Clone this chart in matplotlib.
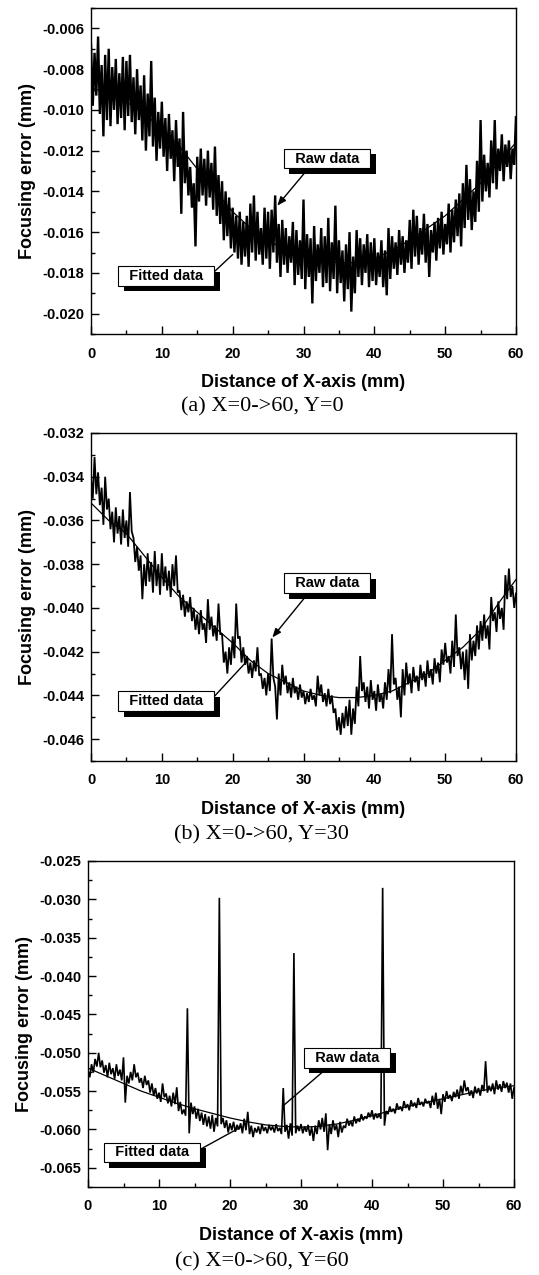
import numpy as np
import matplotlib
matplotlib.use("Agg")
import matplotlib.pyplot as plt
import matplotlib.patheffects as pe
from matplotlib.ticker import MultipleLocator, FormatStrFormatter

plt.rcParams['axes.unicode_minus'] = False
plt.rcParams['font.family'] = ['Liberation Sans', 'DejaVu Sans']

# ---------------- data (focusing error in micrometres, x in mm) ----------------
# raw data: upper excursions sampled at x = 0, 0.5, ... ; lower excursions at x = 0.25, 0.75, ...
raw_a_hi = [-6.8, -7.2, -6.4, -7.8, -7.3, -7.0, -7.9, -7.5, -8.2, -7.4, -7.6, -7.3, -8.4, -8.0, -8.8, -8.3,
            -9.2, -7.6, -9.4, -10.1, -9.6, -10.4, -10.2, -11.0, -10.5, -11.4, -10.1, -12.0, -12.8, -13.6, -12.3,
            -11.9, -12.4, -12.0, -12.6, -11.8, -13.2, -13.5, -14.0, -14.3, -14.8, -15.2, -15.0, -15.5, -15.2,
            -14.6, -14.2, -15.0, -15.8, -14.8, -15.0, -14.9, -14.2, -15.6, -15.4, -15.8, -16.2, -15.5, -15.9,
            -16.4, -14.4, -16.1, -16.3, -15.7, -16.6, -15.8, -16.2, -15.3, -16.5, -14.7, -16.4, -16.9, -16.6,
            -16.0, -17.2, -15.9, -16.3, -16.6, -16.1, -16.5, -16.3, -17.0, -16.4, -16.9, -15.8, -16.2, -16.5,
            -15.9, -16.2, -16.4, -15.4, -14.9, -15.2, -15.8, -15.1, -15.6, -15.9, -15.5, -15.3, -15.0, -15.6,
            -14.6, -14.9, -14.4, -14.1, -13.6, -12.7, -13.4, -14.0, -12.5, -10.5, -12.2, -12.6, -11.5, -10.5,
            -11.9, -11.2, -11.7, -11.5, -11.9, -10.3]
raw_a_lo = [-9.8, -9.3, -10.2, -11.3, -10.5, -10.8, -10.0, -10.7, -10.4, -11.0, -10.3, -10.6, -11.2, -10.5,
            -11.5, -12.0, -11.3, -11.8, -12.5, -11.9, -12.3, -13.0, -12.4, -13.5, -12.8, -15.1, -13.6, -14.2,
            -14.8, -16.7, -14.5, -14.2, -14.7, -14.3, -14.9, -15.2, -15.6, -16.4, -16.2, -16.8, -17.0, -17.3,
            -17.6, -17.2, -17.7, -17.0, -17.4, -17.1, -17.6, -17.3, -17.8, -17.0, -17.5, -18.2, -17.6, -18.0,
            -17.5, -18.6, -18.1, -18.3, -18.8, -18.2, -19.5, -18.4, -18.0, -18.7, -18.5, -18.9, -18.3, -19.0,
            -18.5, -19.4, -18.8, -19.9, -19.0, -18.2, -18.6, -18.0, -18.7, -18.4, -18.6, -18.2, -18.7, -19.1,
            -18.3, -17.8, -18.1, -17.6, -18.0, -17.5, -17.8, -17.2, -17.6, -17.1, -17.5, -18.2, -17.0, -17.4,
            -16.8, -17.1, -16.6, -17.0, -16.5, -16.2, -16.7, -15.8, -15.4, -15.9, -15.5, -15.0, -14.5, -14.0,
            -14.3, -13.6, -13.9, -13.0, -13.5, -12.8, -13.4, -12.7, -12.2]
fit_a_x = [0, 2.5, 5, 7.5, 10, 12.5, 15, 17.5, 20, 22.5, 25, 27.5, 30, 32.5, 35, 37.5, 40, 42.5, 45, 47.5, 50,
           52.5, 55, 57.5, 60]
fit_a = [-8.9, -9.2, -9.6, -10.2, -10.9, -11.8, -12.9, -14.0, -15.0, -15.8, -16.4, -16.9, -17.2, -17.4, -17.5,
         -17.5, -17.3, -16.9, -16.4, -15.8, -15.2, -14.4, -13.6, -12.6, -11.6]

raw_b_hi = [-34.0, -33.1, -33.8, -34.5, -34.0, -35.0, -35.6, -35.4, -35.8, -35.5, -36.0, -34.7, -36.8, -37.2,
            -37.6, -38.0, -37.5, -37.9, -37.4, -38.0, -37.5, -38.1, -38.3, -38.0, -37.6, -39.2, -39.4, -39.7,
            -39.5, -40.0, -40.3, -40.1, -40.7, -39.6, -40.4, -40.8, -39.8, -41.2, -42.0, -41.8, -41.3, -39.8,
            -41.3, -41.8, -42.2, -42.5, -42.4, -41.8, -43.0, -43.2, -43.0, -41.4, -43.6, -43.0, -42.6, -43.1,
            -43.4, -43.2, -43.6, -43.5, -43.8, -43.9, -43.7, -44.0, -43.1, -43.5, -43.9, -43.7, -44.0, -44.6,
            -45.0, -44.8, -44.5, -44.2, -44.6, -43.6, -42.2, -43.4, -43.6, -43.3, -43.8, -43.5, -43.9, -43.4,
            -42.8, -41.2, -43.2, -43.6, -42.8, -42.5, -43.0, -42.7, -43.1, -42.6, -42.9, -42.4, -42.8, -42.3,
            -42.5, -41.9, -41.6, -42.2, -41.5, -40.3, -41.8, -42.0, -41.9, -41.2, -41.5, -40.8, -40.6, -40.3,
            -40.8, -39.5, -40.2, -39.7, -40.0, -38.5, -38.2, -39.0, -39.3]
raw_b_lo = [-35.0, -34.8, -35.3, -36.2, -35.5, -36.4, -37.0, -36.6, -37.1, -36.8, -37.2, -36.5, -37.9, -38.3,
            -39.6, -39.0, -38.8, -39.3, -39.0, -39.4, -39.0, -39.2, -39.5, -39.0, -39.3, -40.1, -40.4, -40.2,
            -40.6, -41.0, -41.2, -41.0, -41.6, -41.0, -41.3, -41.5, -41.2, -42.5, -43.0, -42.6, -42.3, -41.4,
            -42.5, -42.6, -43.0, -43.2, -42.9, -43.1, -43.7, -44.0, -43.8, -43.2, -45.1, -44.0, -43.5, -43.9,
            -44.1, -43.9, -44.2, -44.1, -44.4, -44.3, -44.2, -44.5, -44.0, -44.3, -44.5, -44.4, -44.8, -45.6,
            -45.8, -45.5, -45.4, -45.8, -45.3, -44.5, -43.8, -44.3, -44.6, -44.2, -44.7, -44.3, -44.6, -44.2,
            -43.9, -43.5, -44.2, -45.0, -44.0, -43.5, -43.9, -43.4, -43.8, -43.3, -43.6, -43.2, -43.5, -43.0,
            -43.4, -42.6, -42.5, -43.0, -42.7, -42.2, -42.8, -43.3, -43.7, -42.4, -42.2, -41.9, -41.5, -41.4,
            -41.9, -40.6, -41.1, -40.5, -41.0, -39.6, -39.5, -40.0, -40.2]
fit_b_x = fit_a_x
fit_b = [-35.2, -36.0, -36.6, -37.6, -38.6, -39.5, -40.2, -40.9, -41.6, -42.4, -43.0, -43.4, -43.8, -44.0, -44.1,
         -44.1, -44.0, -43.8, -43.4, -43.0, -42.4, -41.8, -41.0, -39.8, -38.7]

raw_c_hi = [-52.3, -51.5, -50.8, -50.0, -51.0, -51.6, -51.3, -52.0, -51.5, -52.2, -50.6, -53.0, -52.5, -51.5,
            -52.6, -53.3, -53.0, -53.6, -54.0, -54.6, -55.2, -54.0, -55.3, -55.6, -55.2, -54.5, -56.4, -57.4,
            -44.2, -56.5, -57.0, -57.3, -57.8, -58.0, -58.3, -58.1, -58.5, -29.8, -58.5, -58.8, -59.2, -59.0,
            -59.4, -59.2, -58.6, -57.7, -59.5, -59.8, -59.6, -59.3, -59.7, -59.4, -59.6, -59.3, -59.8, -54.6,
            -59.4, -59.2, -37.0, -59.5, -59.3, -59.6, -59.4, -59.7, -59.5, -58.8, -58.5, -57.9, -59.3, -58.8,
            -59.4, -59.0, -59.5, -58.6, -58.9, -58.3, -58.6, -58.0, -58.3, -57.8, -57.5, -57.9, -58.0, -28.5,
            -57.6, -57.0, -57.3, -56.6, -57.0, -56.3, -56.7, -56.2, -56.5, -55.9, -56.4, -56.0, -56.3, -55.6,
            -55.2, -56.0, -55.4, -55.0, -55.5, -55.1, -54.8, -54.3, -53.6, -54.5, -54.9, -54.4, -54.6, -54.2,
            -51.1, -54.3, -54.0, -53.6, -54.1, -53.7, -53.9, -54.0, -54.5]
raw_c_lo = [-53.2, -52.6, -51.8, -51.9, -52.6, -53.2, -52.8, -53.4, -53.0, -53.6, -56.5, -54.0, -53.6, -53.2,
            -53.9, -54.6, -54.2, -55.2, -55.6, -56.0, -56.4, -55.8, -56.6, -57.0, -56.7, -57.6, -58.0, -58.2,
            -60.5, -58.0, -58.6, -58.9, -59.4, -59.6, -59.9, -60.3, -59.6, -59.3, -59.8, -60.4, -60.1, -60.3,
            -60.0, -60.5, -60.1, -60.6, -61.0, -60.4, -60.6, -60.2, -60.5, -60.1, -60.4, -60.2, -60.6, -60.3,
            -61.2, -60.8, -60.5, -60.2, -60.5, -60.3, -60.8, -61.5, -60.6, -60.0, -60.3, -62.7, -60.6, -60.1,
            -61.0, -60.4, -59.8, -59.5, -59.6, -59.2, -59.0, -58.8, -58.6, -58.4, -58.7, -58.5, -58.6, -59.5,
            -58.0, -57.7, -57.9, -57.4, -57.6, -57.2, -57.5, -57.0, -57.2, -56.8, -57.0, -56.6, -57.2, -56.8,
            -57.3, -58.0, -56.4, -56.0, -56.3, -55.8, -56.0, -55.4, -55.0, -55.6, -55.9, -55.3, -55.6, -55.0,
            -55.2, -55.0, -55.4, -54.8, -55.1, -54.6, -55.2, -56.0, -55.6]
fit_c_x = fit_a_x
fit_c = [-52.0, -53.0, -54.0, -55.0, -55.8, -56.6, -57.3, -57.9, -58.5, -59.0, -59.4, -59.6, -59.7, -59.6, -59.3,
         -58.8, -58.2, -57.6, -57.0, -56.5, -56.0, -55.5, -55.0, -54.6, -54.3]

captions = ["(a) X=0->60, Y=0", "(b) X=0->60, Y=30", "(c) X=0->60, Y=60"]
xlabel = "Distance of X-axis (mm)"
ylabel = "Focusing error (mm)"


def interleave(hi, lo):
    v = np.empty(len(hi) + len(lo))
    v[0::2] = hi
    v[1::2] = lo
    x = np.arange(len(v)) * 0.25
    return x, v * 1e-3


W, H = 539, 1275
fig = plt.figure(figsize=(W / 100, H / 100), dpi=100)


def px_axes(l, t, r, b):
    return fig.add_axes([l / W, 1 - b / H, (r - l) / W, (b - t) / H])


panels = [
    dict(rect=(91, 8, 516, 334), hi=raw_a_hi, lo=raw_a_lo, fx=fit_a_x, fy=fit_a, ylim=(-0.021, -0.005),
         major=0.002, minor=0.001, cap=(262, 407), raw_lw=1.7,
         raw_box=(33.3, -0.01239), raw_tip=(26.3, -0.0147),
         fit_box=(10.6, -0.01815), fit_tip=(20.0, -0.0171), raw_head=True),
    dict(rect=(91, 433, 516, 761), hi=raw_b_hi, lo=raw_b_lo, fx=fit_b_x, fy=fit_b, ylim=(-0.047, -0.032),
         major=0.002, minor=0.001, cap=(261, 835), raw_lw=1.3,
         raw_box=(33.3, -0.03887), raw_tip=(25.6, -0.04135),
         fit_box=(10.6, -0.04426), fit_tip=(22.2, -0.04237), raw_head=True),
    dict(rect=(88, 861, 514, 1187), hi=raw_c_hi, lo=raw_c_lo, fx=fit_c_x, fy=fit_c, ylim=(-0.0675, -0.025),
         major=0.005, minor=0.0025, cap=(262, 1262), raw_lw=1.2,
         raw_box=(36.5, -0.05065), raw_tip=(27.5, -0.0569),
         fit_box=(9.0, -0.0630), fit_tip=(21.7, -0.0596), raw_head=False),
]

shadow = [pe.withSimplePatchShadow(offset=(4, -4), shadow_rgbFace='black', alpha=1.0)]

for i, p in enumerate(panels):
    ax = px_axes(*p['rect'])
    x, v = interleave(p['hi'], p['lo'])
    ax.plot(x, v, color='black', lw=p['raw_lw'], solid_joinstyle='miter')
    ax.plot(p['fx'], np.array(p['fy']) * 1e-3, color='black', lw=0.9)
    ax.set_xlim(0, 60)
    ax.set_ylim(*p['ylim'])
    ax.xaxis.set_major_locator(MultipleLocator(10))
    ax.xaxis.set_minor_locator(MultipleLocator(5))
    ax.yaxis.set_major_locator(MultipleLocator(p['major']))
    ax.yaxis.set_minor_locator(MultipleLocator(p['minor']))
    ax.yaxis.set_major_formatter(FormatStrFormatter('%.3f'))
    ax.tick_params(which='both', direction='in', top=False, right=False, width=1.0)
    ax.tick_params(which='major', length=6)
    ax.tick_params(which='minor', length=3)
    ax.tick_params(axis='x', pad=9)
    ax.tick_params(axis='y', pad=5)
    for lab in ax.get_xticklabels() + ax.get_yticklabels():
        lab.set_fontweight('bold')
        lab.set_fontsize(10.5)
    for s in ax.spines.values():
        s.set_linewidth(1.0)
    ax.set_xlabel(xlabel, fontsize=13, fontweight='bold', labelpad=10)
    ax.set_ylabel(ylabel, fontsize=13, fontweight='bold', labelpad=4)

    bbox = dict(boxstyle='square,pad=0.2', fc='white', ec='black', lw=0.8)
    ap_raw = dict(arrowstyle='-|>,head_length=0.5,head_width=0.2' if p['raw_head'] else '-',
                  color='black', lw=1.0, relpos=(0.3, 0.0), shrinkA=0, shrinkB=0)
    t1 = ax.annotate("  Raw data  ", xy=p['raw_tip'], xytext=p['raw_box'], ha='center', va='center',
                     fontsize=10.5, fontweight='bold', bbox=bbox, arrowprops=ap_raw, zorder=5)
    t1.get_bbox_patch().set_path_effects(shadow)
    ap_fit = dict(arrowstyle='-', color='black', lw=1.0, relpos=(1.0, 0.6), shrinkA=0, shrinkB=0)
    t2 = ax.annotate("  Fitted data  ", xy=p['fit_tip'], xytext=p['fit_box'], ha='center', va='center',
                     fontsize=10.5, fontweight='bold', bbox=bbox, arrowprops=ap_fit, zorder=5)
    t2.get_bbox_patch().set_path_effects(shadow)

    cx, cy = p['cap']
    fig.text(cx / W, 1 - cy / H, captions[i], ha='center', va='center', fontsize=16,
             family=['Liberation Serif', 'DejaVu Serif'])

fig.savefig("out.png", dpi=100)
